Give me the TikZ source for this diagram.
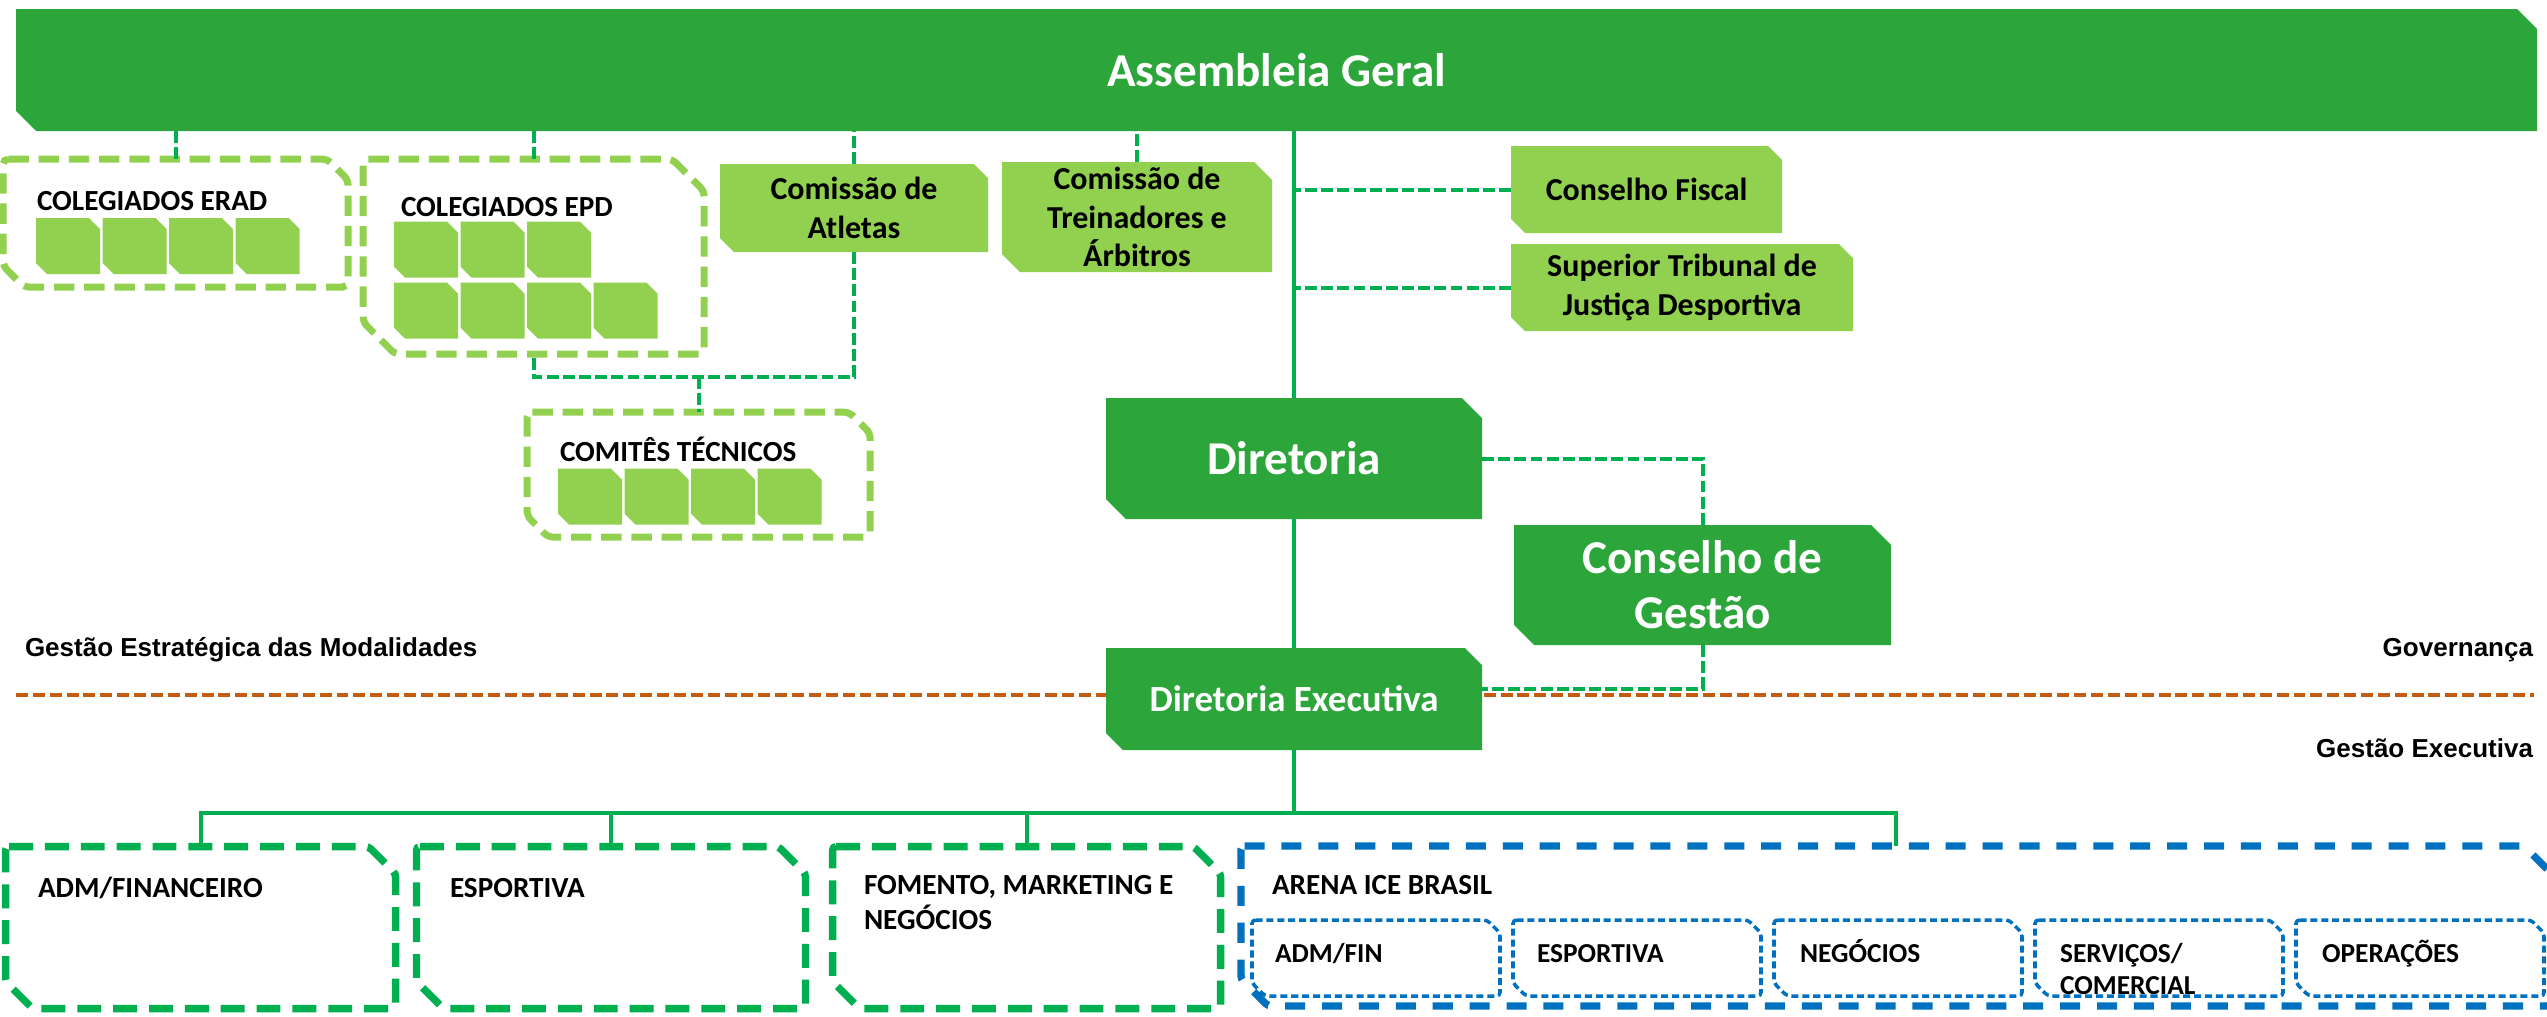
\documentclass[tikz,border=0pt]{standalone}
\usepackage{fontspec}
\setmainfont{Carlito}
\newfontfamily\arialfont{Liberation Sans}
\usetikzlibrary{calc}
\definecolor{dkgreen}{RGB}{44,165,58}
\definecolor{ltgreen}{RGB}{146,208,80}
\definecolor{lngreen}{RGB}{0,176,80}
\definecolor{arblue}{RGB}{0,112,192}
\definecolor{sepor}{RGB}{197,90,17}
\tikzset{snipfill/.style 2 args={path picture={
  \fill [#1] (path picture bounding box.north west)
    -- ($(path picture bounding box.north east)+(-#2,0)$)
    -- ($(path picture bounding box.north east)+(0,-#2)$)
    -- (path picture bounding box.south east)
    -- ($(path picture bounding box.south west)+(#2,0)$)
    -- ($(path picture bounding box.south west)+(0,#2)$) -- cycle;}}}
\newcommand{\snipline}[3]{\draw [#3] (#1.north west) -- ($(#1.north east)+(-#2,0)$) -- ($(#1.north east)+(0,-#2)$) -- (#1.south east) -- ($(#1.south west)+(#2,0)$) -- ($(#1.south west)+(0,#2)$) -- cycle;}

\begin{document}
\begin{tikzpicture}[scale=0.2]
\tikzstyle{every node}+=[inner sep=0pt, outer sep=0pt]
\tikzstyle{darkbox}=[text=white, font=\bfseries\fontsize{13.4}{15.6}\selectfont, align=center]
\tikzstyle{lightbox}=[font=\bfseries\fontsize{9.1}{11}\selectfont, align=center]
\tikzstyle{tilebox}=[snipfill={ltgreen}{0.11}, minimum width=0.64cm, minimum height=0.56cm]
\tikzstyle{groupline}=[ltgreen, line width=2pt, dash pattern=on 5.8pt off 2.8pt, rounded corners=1.5pt]
\tikzstyle{arealine}=[lngreen, line width=2.1pt, dash pattern=on 6.8pt off 3.4pt, rounded corners=1pt]
\tikzstyle{arenaline}=[arblue, line width=2.1pt, dash pattern=on 5.7pt off 4.8pt, rounded corners=1pt]
\tikzstyle{unitline}=[arblue, line width=1pt, dash pattern=on 2pt off 1.1pt, rounded corners=1pt]
\tikzstyle{areabox}=[minimum height=1.62cm]
\tikzstyle{subunit}=[minimum width=2.48cm, minimum height=0.76cm]
\tikzstyle{boxtitle}=[anchor=base west, font=\bfseries\fontsize{8.3}{10}\selectfont, align=left]
\tikzstyle{unittitle}=[anchor=base west, font=\bfseries\fontsize{7.8}{9.1}\selectfont, align=left]
\tikzstyle{sidelabel}=[font=\arialfont\bfseries\fontsize{7.4}{9}\selectfont]
\tikzstyle{link}=[draw=lngreen, line width=1.1pt]
\tikzstyle{dlink}=[link, dash pattern=on 3.4pt off 1.2pt]
\useasboundingbox (0,0) rectangle (127.35,-50.8);
\draw [sepor, line width=1.1pt, dash pattern=on 3.4pt off 1.4pt] (0.8,-34.75) -- (126.7,-34.75);
\node [darkbox, snipfill={dkgreen}{0.2}, minimum width=25.21cm, minimum height=1.22cm] (asm) at (63.83,-3.5) {Assembleia Geral};
\node [minimum width=3.45cm, minimum height=1.28cm] (erad) at (8.78,-11.15) {};
\node [boxtitle] (eradt) at (1.85,-10.5) {COLEGIADOS ERAD};
\node [tilebox] (erad1) at (3.4,-12.3) {};
\node [tilebox] (erad2) at (6.73,-12.3) {};
\node [tilebox] (erad3) at (10.05,-12.3) {};
\node [tilebox] (erad4) at (13.38,-12.3) {};
\node [minimum width=3.41cm, minimum height=1.95cm] (epd) at (26.68,-12.83) {};
\node [boxtitle] (epdt) at (20.05,-10.8) {COLEGIADOS EPD};
\node [tilebox] (epd1) at (21.3,-12.48) {};
\node [tilebox] (epd2) at (24.63,-12.48) {};
\node [tilebox] (epd3) at (27.95,-12.48) {};
\node [tilebox] (epd4) at (21.3,-15.53) {};
\node [tilebox] (epd5) at (24.63,-15.53) {};
\node [tilebox] (epd6) at (27.95,-15.53) {};
\node [tilebox] (epd7) at (31.28,-15.53) {};
\node [lightbox, snipfill={ltgreen}{0.14}, minimum width=2.68cm, minimum height=0.88cm] (atl) at (42.7,-10.4) {Comissão de\\Atletas};
\node [lightbox, snipfill={ltgreen}{0.18}, minimum width=2.7cm, minimum height=1.1cm] (tre) at (56.85,-10.85) {Comissão de\\Treinadores e\\Árbitros};
\node [lightbox, snipfill={ltgreen}{0.14}, minimum width=2.71cm, minimum height=0.87cm] (fis) at (82.33,-9.48) {Conselho Fiscal};
\node [lightbox, snipfill={ltgreen}{0.14}, minimum width=3.42cm, minimum height=0.87cm] (stjd) at (84.1,-14.38) {Superior Tribunal de\\Justiça Desportiva};
\node [minimum width=3.43cm, minimum height=1.25cm] (com) at (34.93,-23.73) {};
\node [boxtitle] (comt) at (28,-23.05) {COMITÊS TÉCNICOS};
\node [tilebox] (com1) at (29.5,-24.83) {};
\node [tilebox] (com2) at (32.83,-24.83) {};
\node [tilebox] (com3) at (36.15,-24.83) {};
\node [tilebox] (com4) at (39.48,-24.83) {};
\node [darkbox, snipfill={dkgreen}{0.2}, minimum width=3.76cm, minimum height=1.21cm] (dir) at (64.7,-22.93) {Diretoria};
\node [darkbox, snipfill={dkgreen}{0.2}, minimum width=3.77cm, minimum height=1.2cm] (cg) at (85.13,-29.25) {Conselho de\\Gestão};
\node [darkbox, snipfill={dkgreen}{0.17}, minimum width=3.76cm, minimum height=1.02cm, font=\bfseries\fontsize{10.5}{12.6}\selectfont] (dex) at (64.7,-34.95) {Diretoria Executiva};
\node [sidelabel, anchor=west] (gem) at (1.25,-32.5) {Gestão Estratégica das Modalidades};
\node [sidelabel, anchor=east] (gov) at (126.65,-32.5) {Governança};
\node [sidelabel, anchor=east] (gex) at (126.65,-37.4) {Gestão Executiva};
\node [areabox, minimum width=3.9cm] (adm) at (10.03,-46.38) {};
\node [boxtitle] (admt) at (1.9,-44.85) {ADM/FINANCEIRO};
\node [areabox, minimum width=3.89cm] (esp) at (30.55,-46.38) {};
\node [boxtitle] (espt) at (22.5,-44.85) {ESPORTIVA};
\node [areabox, minimum width=3.88cm] (fom) at (51.33,-46.38) {};
\node [boxtitle, anchor=west] (fomt) at (43.2,-45.13) {FOMENTO, MARKETING E\\NEGÓCIOS};
\node [areabox, minimum width=13.1cm, minimum height=1.6cm] (arena) at (94.8,-46.3) {};
\node [boxtitle] (arenat) at (63.6,-44.7) {ARENA ICE BRASIL};
\node [subunit] (ua) at (68.8,-47.9) {};
\node [unittitle] (uat) at (63.75,-48.1) {ADM/FIN};
\node [subunit] (ub) at (81.85,-47.9) {};
\node [unittitle] (ubt) at (76.85,-48.1) {ESPORTIVA};
\node [subunit] (uc) at (94.9,-47.9) {};
\node [unittitle] (uct) at (90,-48.1) {NEGÓCIOS};
\node [subunit] (ud) at (107.95,-47.9) {};
\node [unittitle, anchor=west] (udt) at (103,-48.45) {SERVIÇOS/\\COMERCIAL};
\node [subunit] (ue) at (121,-47.9) {};
\node [unittitle] (uet) at (116.1,-48.1) {OPERAÇÕES};
\snipline{erad}{1.05}{groupline}
\snipline{epd}{1.6}{groupline}
\snipline{com}{1.05}{groupline}
\snipline{adm}{1.35}{arealine}
\snipline{esp}{1.35}{arealine}
\snipline{fom}{1.35}{arealine}
\snipline{arena}{1.35}{arenaline}
\snipline{ua}{0.65}{unitline}
\snipline{ub}{0.65}{unitline}
\snipline{uc}{0.65}{unitline}
\snipline{ud}{0.65}{unitline}
\snipline{ue}{0.65}{unitline}
\coordinate (jn) at (34.93,-18.85);
\coordinate (dexin) at (74.1,-34.45);
\coordinate (bus) at (64.7,-40.65);
\draw [dlink] (erad.north) -- (erad.north |- asm.south);
\draw [dlink] (epd.north) -- (epd.north |- asm.south);
\draw [dlink] (atl.north) -- (atl.north |- asm.south);
\draw [dlink] (tre.north) -- (tre.north |- asm.south);
\draw [dlink] (atl.south) |- (jn) -| (epd.south);
\draw [dlink] (jn) -- (com.north);
\draw [link] (asm.south -| dir.north) -- (dir.north);
\draw [dlink] (fis.west) -- (fis.west -| dir.north);
\draw [dlink] (stjd.west) -- (stjd.west -| dir.north);
\draw [link] (dir.south) -- (dex.north);
\draw [dlink] (dir.east) -| (cg.north);
\draw [dlink] (cg.south) |- (dexin);
\draw [link] (dex.south) -- (bus);
\draw [link] (adm.north) |- (bus) -| (arena.north);
\draw [link] (esp.north) -- (esp.north |- bus);
\draw [link] (fom.north) -- (fom.north |- bus);
\end{tikzpicture}
\end{document}
